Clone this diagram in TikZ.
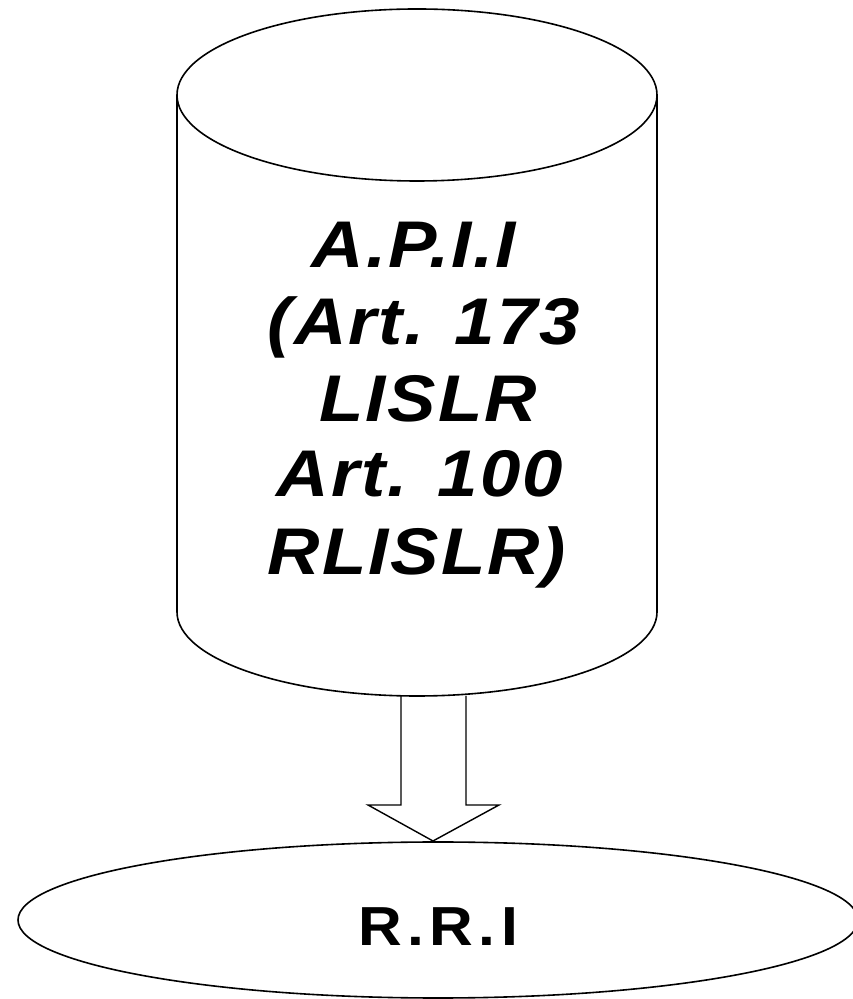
\documentclass[tikz,border=0pt]{standalone}
\usepackage{fontspec}
\setmainfont{Liberation Sans}
\usetikzlibrary{shapes.geometric}
\newcommand{\widesp}{\hspace{30pt}}
\begin{document}
\begin{tikzpicture}[x=1pt,y=1pt,
  outline/.style={draw=black,line width=1.6pt},
  cyltext/.style={anchor=base,inner sep=0pt,font=\fontsize{66}{77}\selectfont\bfseries\itshape\addfontfeature{FakeStretch=1.1,LetterSpace=3}},
  ovaltext/.style={anchor=base,inner sep=0pt,font=\fontsize{55}{60}\selectfont\bfseries\addfontfeature{FakeStretch=1.1,LetterSpace=10}}]
\useasboundingbox (0,0) rectangle (852,999);
% cylinder
\coordinate (cyltop) at (417,904);
\draw[outline] (cyltop) ellipse [x radius=240, y radius=86];
\draw[outline] (177,904) -- (177,387) arc[start angle=180, end angle=360, x radius=240, y radius=84] -- (657,904);
% text inside cylinder
\node[cyltext] (l1) at (414,731) {A.P.I.I};
\node[cyltext] (l2) at (424,654) {(Art.\widesp173};
\node[cyltext] (l3) at (428,577) {LISLR};
\node[cyltext] (l4) at (420,502) {Art.\widesp100};
\node[cyltext] (l5) at (417,424) {RLISLR)};
% block arrow
\draw[outline,line width=1.4pt,line join=miter] (401,303) -- (401,194) -- (368,194) -- (433,158) -- (499,194) -- (466,194) -- (466,303);
% ellipse
\node[ellipse,outline,minimum width=840pt,minimum height=156pt,inner sep=0pt] (oval) at (438,79) {};
\node[ovaltext] (rri) at (438,53) {R.R.I};
\end{tikzpicture}
\end{document}
